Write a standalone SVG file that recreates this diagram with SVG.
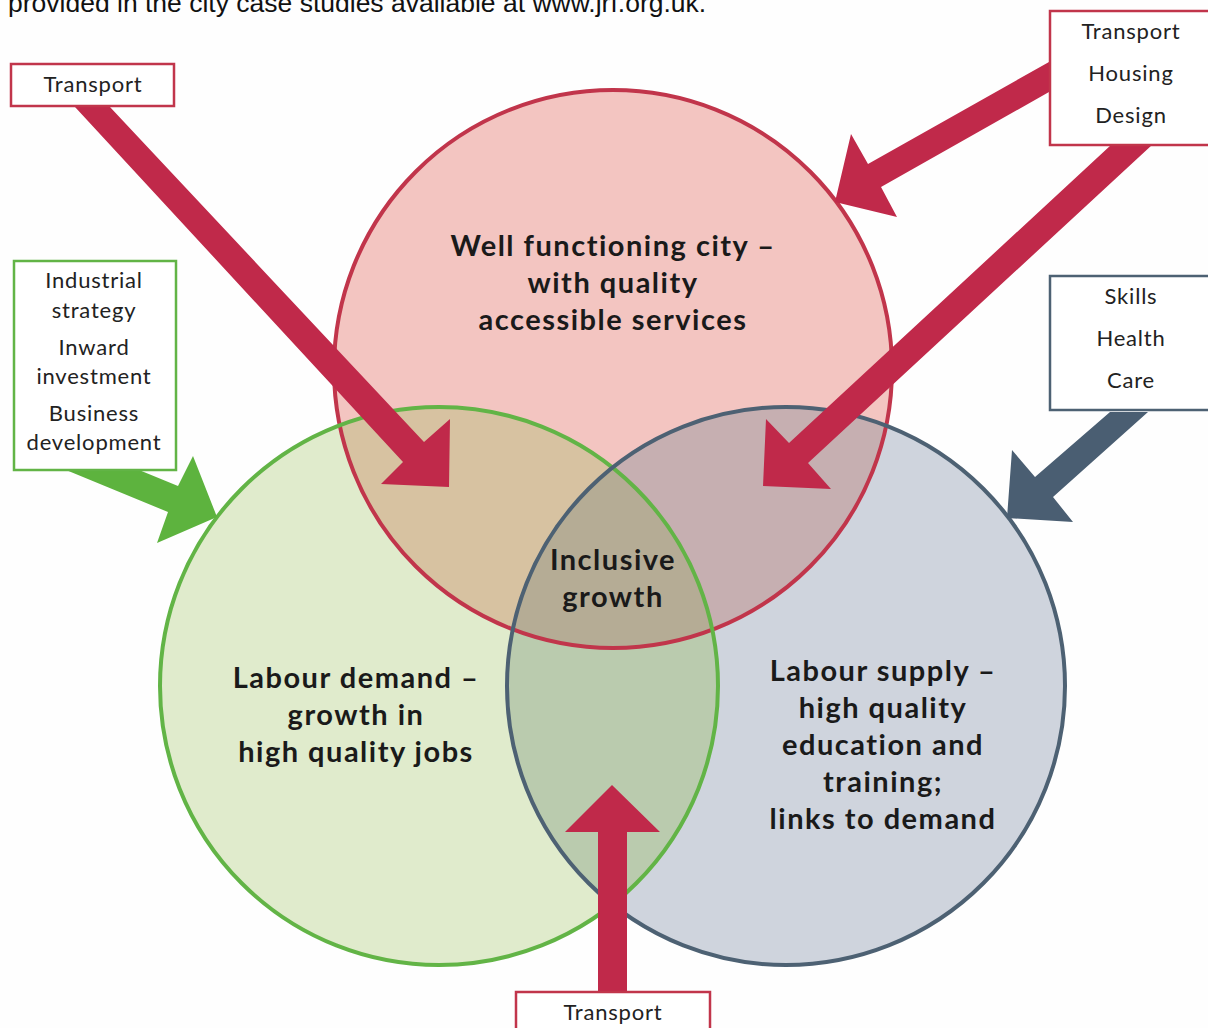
<svg xmlns="http://www.w3.org/2000/svg" width="1208" height="1028" viewBox="0 0 1208 1028">
<style>
.box{fill:#ffffff;stroke-width:2.5}
.bt{font-family:Lato,"Open Sans","Liberation Sans",sans-serif;font-size:22px;letter-spacing:0.8px;fill:#222;text-anchor:middle}
.ct{font-family:Lato,"Open Sans","Liberation Sans",sans-serif;font-size:29px;font-weight:bold;letter-spacing:1.5px;fill:#1a1a1a;text-anchor:middle}
.ring{fill:none;stroke-width:4}
</style>
<defs>
<clipPath id="cR"><circle cx="613" cy="369" r="279"/></clipPath>
<clipPath id="cG"><circle cx="439" cy="686" r="279"/></clipPath>
<clipPath id="cB"><circle cx="786" cy="686" r="279"/></clipPath>
</defs>
<rect width="1208" height="1028" fill="#fefefe"/>
<text x="8" y="12" font-family="Liberation Sans, Arial, sans-serif" font-size="26.5" fill="#111">provided in the city case studies available at www.jrf.org.uk.</text>

<g id="fills">
<circle cx="613" cy="369" r="279" fill="#f3c5c1"/>
<circle cx="439" cy="686" r="279" fill="#e0ebcc"/>
<circle cx="786" cy="686" r="279" fill="#cfd4dd"/>
<circle cx="439" cy="686" r="279" fill="#d7c2a1" clip-path="url(#cR)"/>
<circle cx="786" cy="686" r="279" fill="#c6afb1" clip-path="url(#cR)"/>
<circle cx="786" cy="686" r="279" fill="#bacbae" clip-path="url(#cG)"/>
<g clip-path="url(#cR)"><circle cx="786" cy="686" r="279" fill="#b5ac95" clip-path="url(#cG)"/></g>
</g>

<g id="node-city">
<circle class="ring" cx="613" cy="369" r="279" stroke="#c1354b"/>
<text class="ct" x="613" y="256">Well functioning city –</text>
<text class="ct" x="613" y="293">with quality</text>
<text class="ct" x="613" y="330">accessible services</text>
</g>
<g id="node-demand">
<circle class="ring" cx="439" cy="686" r="279" stroke="#62b446"/>
<text class="ct" x="356" y="688">Labour demand –</text>
<text class="ct" x="356" y="725">growth in</text>
<text class="ct" x="356" y="762">high quality jobs</text>
</g>
<g id="node-supply">
<circle class="ring" cx="786" cy="686" r="279" stroke="#4d6173"/>
<text class="ct" x="883" y="681">Labour supply –</text>
<text class="ct" x="883" y="718">high quality</text>
<text class="ct" x="883" y="755">education and</text>
<text class="ct" x="883" y="792">training;</text>
<text class="ct" x="883" y="829">links to demand</text>
</g>
<g id="node-inclusive">
<text class="ct" x="613" y="570">Inclusive</text>
<text class="ct" x="613" y="607">growth</text>
</g>

<g id="connectors">
<polygon fill="#c0294a" points="75,107 110,107 424,442 450,419 449,487 381,484 403,462"/>
<polygon fill="#c0294a" points="1111,145 1152,145 808,463 831,489 763,486 766,419 789,443"/>
<polygon fill="#c0294a" points="1049,62 1049,92 881,187 897,217 835,202 851,134 868,164"/>
<polygon fill="#4a5e72" points="1110,412 1148,412 1053,497 1073,522 1007,518 1012,450 1035,477"/>
<polygon fill="#5db33e" points="66,470 139,470 178,486 193,456 217,517 157,543 168,512"/>
<polygon fill="#c0294a" points="598,992 627,992 627,832 660,832 612,785 565,832 598,832"/>
</g>

<g id="node-transport-tl">
<rect class="box" x="11" y="64" width="163" height="42" stroke="#c1354b"/>
<text class="bt" x="93" y="92">Transport</text>
</g>
<g id="node-thd">
<rect class="box" x="1050" y="11" width="170" height="134" stroke="#c1354b"/>
<text class="bt" x="1131" y="39">Transport</text>
<text class="bt" x="1131" y="81">Housing</text>
<text class="bt" x="1131" y="123">Design</text>
</g>
<g id="node-shc">
<rect class="box" x="1050" y="276" width="170" height="134" stroke="#4d6173"/>
<text class="bt" x="1131" y="304">Skills</text>
<text class="bt" x="1131" y="346">Health</text>
<text class="bt" x="1131" y="388">Care</text>
</g>
<g id="node-industrial">
<rect class="box" x="14" y="261" width="162" height="209" stroke="#62b446"/>
<text class="bt" x="94" y="288">Industrial</text>
<text class="bt" x="94" y="318">strategy</text>
<text class="bt" x="94" y="355">Inward</text>
<text class="bt" x="94" y="384">investment</text>
<text class="bt" x="94" y="421">Business</text>
<text class="bt" x="94" y="450">development</text>
</g>
<g id="node-transport-b">
<rect class="box" x="516" y="992" width="194" height="50" stroke="#c1354b"/>
<text class="bt" x="613" y="1020">Transport</text>
</g>
</svg>
